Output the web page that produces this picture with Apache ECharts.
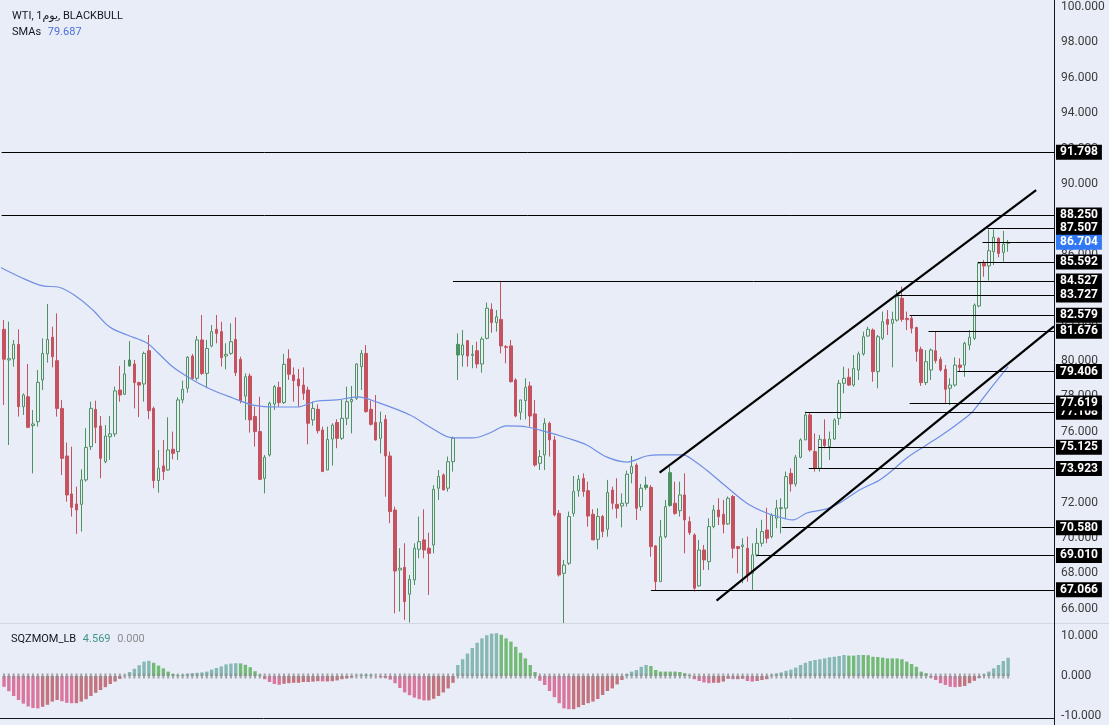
<!DOCTYPE html>
<html><head><meta charset="utf-8">
<script src="https://cdn.jsdelivr.net/npm/echarts@6/dist/echarts.min.js"></script>
<style>html,body{margin:0;padding:0;background:#e9edf7;}#c{width:1109px;height:725px;}</style>
</head><body><div id="c"></div>
<script>
// ---- DATA ----
// candles: [open, close, low, high]
const candles = [
[81.79,80.10,77.51,82.32],[80.06,80.13,75.25,82.22],[80.11,80.94,79.68,81.19],[80.94,77.42,76.86,81.79],[77.42,78.08,76.95,78.17],
[77.98,76.25,76.20,79.83],[76.35,76.44,73.65,77.23],[76.57,78.79,76.29,79.49],[78.93,80.43,78.36,81.28],[80.40,81.22,79.91,83.22],
[81.34,80.24,79.64,81.94],[80.02,77.32,76.86,82.69],[77.32,74.50,73.56,77.80],[74.63,72.43,72.05,75.39],[72.49,71.73,71.21,75.16],
[71.92,71.58,70.23,72.90],[71.90,73.28,70.36,73.88],[73.28,75.12,73.18,76.20],[75.16,77.32,74.97,77.70],[77.27,76.25,75.35,77.76],
[76.33,74.50,73.37,76.89],[74.31,75.76,74.22,76.38],[75.72,75.88,74.41,76.89],[75.88,78.31,75.72,78.55],[78.36,78.08,77.70,79.72],
[78.12,79.27,78.08,80.06],[80.06,79.72,79.68,81.13],[79.83,78.78,77.32,80.06],[78.78,78.64,76.82,78.83],[78.70,80.43,77.70,80.53],
[80.58,77.19,76.71,81.47],[77.32,73.24,72.81,77.42],[73.24,73.94,72.56,74.97],[74.07,73.75,73.28,75.54],[73.84,74.97,73.80,76.82],
[75.01,74.78,74.44,76.01],[74.88,77.80,74.41,77.95],[77.80,78.40,77.61,78.89],[78.46,80.21,78.21,80.28],[80.28,79.02,78.93,80.40],
[79.02,81.19,78.89,81.41],[81.19,79.30,79.21,82.60],[79.30,80.71,78.46,81.19],[80.85,81.66,80.77,82.03],[81.79,81.56,81.00,82.60],
[81.66,80.19,79.68,82.22],[80.28,80.38,79.53,81.00],[80.43,81.09,80.34,82.13],[81.22,79.34,79.15,82.47],[80.09,77.76,77.61,80.24],
[78.02,79.11,76.67,79.30],[79.15,76.67,75.95,79.30],[76.86,76.01,75.16,77.42],[76.01,73.31,73.28,77.98],[73.37,74.56,72.52,74.69],
[74.69,77.61,74.60,77.70],[77.57,78.55,77.23,78.64],[78.50,77.65,77.42,78.83],[77.65,79.81,77.57,80.40],[80.12,79.25,78.93,80.66],
[79.21,78.89,77.70,79.64],[78.98,78.59,77.42,79.55],[78.64,78.17,77.80,79.64],[78.36,76.48,75.29,78.55],[76.67,77.32,76.35,77.70],
[77.27,76.06,75.91,77.55],[76.10,73.75,73.75,76.29],[73.84,75.57,73.84,76.29],[75.59,76.38,74.09,76.48],[76.52,75.63,75.07,76.71],
[75.63,76.76,75.54,77.80],[76.76,77.70,76.38,78.55],[77.70,77.83,75.91,78.59],[77.89,79.83,77.80,79.87],[79.68,80.43,78.36,80.62],
[80.43,77.14,77.08,80.90],[77.27,76.42,76.35,77.76],[76.53,75.54,75.50,78.08],[75.63,76.53,74.78,77.14],[76.70,74.63,72.33,76.95],
[74.63,71.49,70.83,74.88],[71.58,68.13,65.74,71.77],[68.19,68.29,65.84,69.42],[68.34,66.40,65.37,69.70],[66.82,67.66,65.22,67.91],
[67.63,69.42,67.34,69.70],[69.36,69.79,68.85,71.21],[69.89,69.32,68.85,71.62],[69.42,69.13,66.78,70.30],[69.60,72.75,69.13,72.99],
[72.81,73.47,72.15,73.84],[73.56,72.71,72.71,73.65],[72.81,74.31,72.62,74.60],[74.31,75.63,73.75,75.73],[80.94,80.34,78.93,81.56],
[80.34,80.90,79.68,81.75],[81.15,80.28,79.68,81.19],[80.32,80.38,79.59,80.90],[80.58,79.83,79.59,81.09],[79.83,81.24,79.34,81.37],
[81.28,82.98,81.22,83.30],[82.92,82.17,81.60,83.26],[82.17,82.50,81.66,82.88],[82.35,80.85,80.43,84.53],[80.81,80.77,79.87,80.90],
[80.85,78.83,78.78,81.19],[78.93,76.89,76.82,79.02],[77.10,77.80,76.67,77.80],[77.76,78.51,76.70,79.02],[78.59,76.89,76.29,78.83],
[77.01,74.12,74.03,77.80],[74.22,74.60,73.84,74.97],[74.69,76.48,73.84,76.76],[76.48,75.54,74.60,76.57],[75.54,71.30,71.21,75.76],
[71.39,67.91,67.82,71.58],[68.00,68.47,65.18,68.76],[68.57,71.21,68.47,71.49],[71.39,72.62,71.21,73.50],[72.67,73.31,72.33,73.56],
[73.37,72.62,72.33,73.65],[72.67,71.24,70.64,73.18],[71.34,69.89,69.89,71.62],[69.92,71.21,69.36,71.68],[71.21,70.36,70.04,71.30],
[70.49,72.56,70.07,73.28],[72.71,71.96,71.62,72.90],[71.90,71.68,71.11,73.37],[71.81,71.96,70.60,72.52],[71.96,73.60,71.77,73.80],
[73.65,74.03,73.09,74.63],[74.12,71.68,71.02,74.22],[71.77,72.81,71.54,73.05],[72.99,72.84,72.71,73.47],[72.86,69.51,68.94,72.99],
[69.55,67.53,67.06,69.60],[67.53,70.07,67.53,71.02],[70.07,71.77,69.98,72.15],[73.69,71.83,71.77,74.03],[71.96,71.39,71.30,73.18],
[71.54,72.43,71.21,73.18],[72.43,71.02,69.13,73.65],[70.92,70.30,70.17,71.21],[70.17,67.16,66.97,70.26],[67.29,69.32,67.25,69.89],
[69.32,68.76,68.19,69.60],[68.66,70.64,68.19,71.11],[70.64,71.58,70.55,71.86],[71.58,71.20,70.73,72.24],[71.34,70.77,70.26,72.15],
[70.79,72.24,70.73,72.34],[72.34,69.42,68.85,72.43],[69.51,69.40,68.00,69.55],[69.51,69.60,67.44,69.98],[69.42,67.91,67.53,70.08],
[68.00,69.04,67.06,69.70],[69.04,69.70,68.94,70.55],[69.70,70.36,69.51,71.02],[70.45,69.98,69.70,71.71],[70.08,71.26,69.98,71.39],
[71.11,71.68,70.55,72.15],[71.66,71.71,70.26,72.24],[71.68,73.47,71.11,73.75],[73.65,73.05,72.62,73.94],[73.05,74.56,72.90,74.69],
[74.56,75.54,74.50,75.63],[75.54,76.95,75.54,77.14],[76.95,74.97,74.88,77.08],[74.88,73.94,73.75,75.91],[73.94,75.57,73.75,75.82],
[75.57,75.22,75.07,76.70],[75.16,75.59,74.41,76.01],[75.59,76.67,75.54,76.76],[76.76,78.74,76.38,78.93],[78.74,79.02,78.17,79.68],
[79.08,78.64,78.59,79.58],[78.64,79.58,78.55,80.34],[79.49,80.40,78.93,80.53],[80.40,81.37,80.30,81.66],[81.41,81.79,81.37,81.94],
[81.75,79.40,78.83,81.84],[79.40,81.37,78.46,81.47],[81.28,82.22,81.18,82.79],[82.35,82.07,81.47,82.88],[82.13,82.35,79.64,82.79],
[82.31,83.63,82.22,84.01],[83.54,82.35,82.22,84.20],[82.41,82.33,81.75,82.79],[82.41,81.85,81.56,82.54],[81.89,80.53,79.96,81.94],
[80.66,78.78,78.59,80.81],[78.78,79.96,78.64,80.62],[79.49,80.62,78.93,80.71],[80.58,80.02,79.87,81.66],[80.09,79.49,79.40,80.24],
[79.53,78.40,77.61,79.77],[78.46,78.64,77.51,79.02],[78.64,79.77,78.55,80.21],[79.77,79.64,79.40,80.15],[79.77,81.00,79.11,81.09],
[80.90,81.34,80.62,81.75],[81.28,83.16,81.18,83.25],[83.11,85.52,83.03,85.61],[85.52,85.37,84.76,85.71],[85.37,86.23,84.54,87.44],
[86.18,86.99,85.42,87.44],[86.93,86.08,85.86,86.99],[86.14,86.61,85.61,87.35],[86.65,86.70,86.18,86.84]
];
// squeeze momentum histogram (one value per candle)
const momentum = [
-2.7,-3.8,-5.0,-6.0,-6.9,-7.6,-8.0,-8.1,-7.7,-7.2,-6.4,-6.0,-6.3,-6.7,-6.8,-6.8,-6.4,-5.8,-5.0,-4.2,
-3.5,-2.8,-2.0,-1.4,-0.7,0.2,1.0,1.8,2.7,3.6,3.8,3.3,2.6,1.9,1.1,0.5,0.25,0.35,0.55,0.7,
0.8,0.9,1.1,1.6,2.0,2.4,2.9,3.1,3.2,3.15,2.8,2.2,1.2,0.3,-0.8,-1.5,-2.0,-2.2,-1.95,-1.8,
-1.7,-1.7,-1.5,-1.5,-1.4,-1.3,-1.35,-1.35,-1.3,-1.1,-0.8,-0.6,-0.35,0.15,0.35,0.4,0.3,-0.05,-0.3,-0.5,
-0.9,-1.8,-3.0,-4.1,-4.8,-5.4,-5.8,-6.1,-6.1,-5.7,-5.0,-4.1,-3.1,-1.7,2.75,4.2,5.6,7.0,8.3,9.4,
10.2,10.6,10.7,10.3,9.4,8.6,7.3,5.8,4.4,2.75,1.0,-1.2,-2.25,-3.75,-5.3,-6.8,-8.1,-8.3,-8.3,-7.8,
-7.25,-6.8,-6.4,-5.75,-4.75,-3.75,-3.1,-2.1,-1.0,0.5,1.1,1.5,2.3,2.75,2.5,1.5,1.1,1.1,1.1,1.1,
1.0,0.7,0.25,-0.8,-1.25,-1.6,-1.8,-1.7,-1.7,-1.4,-0.7,-0.8,-0.8,-0.7,-1.25,-1.4,-1.25,-1.0,-0.8,0.3,
0.6,0.9,1.3,1.6,2.1,2.75,3.3,3.75,4.0,4.2,4.4,4.7,4.8,5.0,5.25,5.1,5.1,5.25,5.25,5.2,
4.8,4.75,4.6,4.4,4.4,4.4,4.2,3.6,3.0,2.3,1.1,0.7,-0.4,-1.0,-1.8,-2.25,-2.7,-2.8,-2.7,-2.5,
-1.8,-1.2,-0.5,0.4,1.1,1.9,2.75,3.75,4.569
];
// SMA line read at sample positions (candle index units)
const smaIdx = [-0.8,3.3,8.1,11.2,15.1,18.4,21.9,25.5,29.6,31.7,35.0,39.1,42.7,47.4,51.6,56.5,60.7,64.8,68.9,73.3,77.2,84.1,88.2,93.0,97.1,100.6,104.1,108.3,112.4,116.6,120.7,124.8,129.0,133.1,135.8,140.6,142.7,145.5,149.7,153.8,158.0,162.1,163.4,166.3,170.4,173.1,177.2,181.4,184.1,187.0,191.1,195.2,199.4,200.6,204.1,208];
const smaVal = [85.30,84.75,84.24,84.18,83.62,82.88,81.92,81.47,81.02,80.51,79.66,78.93,78.42,77.91,77.51,77.40,77.40,77.74,77.80,77.97,77.68,76.95,76.27,75.65,75.65,75.93,76.33,76.27,75.99,75.65,75.25,74.58,74.29,74.63,74.69,74.69,74.41,73.84,72.88,71.98,71.41,71.07,71.02,71.41,71.64,71.98,72.71,73.28,73.84,74.52,75.25,75.99,76.84,77.12,78.36,79.687];
// channel trend lines (candle index, price)
const upperIdx = [135.8, 213.8], upperVal = [73.69, 89.66];
const lowerIdx = [147.6, 217.5], lowerVal = [66.46, 81.96];
// horizontal levels: price and starting candle index
const levelVals = [91.798, 88.250, 87.507, 85.592, 84.527, 83.727, 82.579, 81.676, 79.406, 77.108, 77.619, 75.125, 73.923, 70.580, 69.010, 67.066];
const levelFrom = [-0.5, -0.5, 203.7, 201.7, 93.0, 184.9, 187.6, 191.5, 197.5, 166.0, 187.6, 168.7, 166.7, 161.1, 155.9, 134.0];
const lastPrice = 86.704, lastPriceFrom = 202.7;
const smaLast = 79.687, momLast = 4.569, sqzLast = 0.000;
const priceTicks = [66,68,70,72,74,76,78,80,82,84,86,88,90,92,94,96,98,100];
const momTicks = [-10,0,10];

// ---- STYLE ----
const BG = '#e9edf7', GREEN = '#4f9262', RED = '#c5525f';
const FONT = 'Roboto, "DejaVu Sans", sans-serif';
const N = 218;
const cats = Array.from({length: N}, (_, i) => String(i));

const candleData = candles.map((c, i) => {
  const prevClose = i > 0 ? candles[i-1][1] : c[0];
  const stroke = c[1] >= prevClose ? GREEN : RED;
  const fill = c[1] > c[0] ? BG : stroke;
  return {value: c, itemStyle: {color: fill, color0: fill, borderColor: stroke, borderColor0: stroke}};
});
const momData = momentum.map((v, i) => {
  const p = i > 0 ? momentum[i-1] : 0;
  let col;
  if (v >= 0) col = v > p ? '#88b8b3' : '#73ba77';
  else col = v < p ? '#da769d' : '#c2737e';
  return {value: v, itemStyle: {color: col}};
});

const levelLines = levelVals.map((v, k) => [
  {coord: [levelFrom[k], v], label: {formatter: v.toFixed(3)}},
  {coord: [N - 0.5, v]}
]);
levelLines.push([
  {coord: [lastPriceFrom, lastPrice], label: {formatter: lastPrice.toFixed(3), backgroundColor: '#3178f4'}},
  {coord: [N - 0.5, lastPrice]}
]);

const legRich = {
  a: {fontSize: 11, fontFamily: FONT, fill: '#131722'},
  b: {fontSize: 11, fontFamily: '"DejaVu Sans", sans-serif', fill: '#131722'},
  s: {fontSize: 11, fontFamily: FONT, fill: '#4a6fd9'},
  t: {fontSize: 11, fontFamily: FONT, fill: '#3f948a'},
  g: {fontSize: 11, fontFamily: FONT, fill: '#8c8c8c'}
};
const chart = echarts.init(document.getElementById('c'), null, {renderer: 'canvas'});
chart.setOption({
  animation: false,
  backgroundColor: BG,
  textStyle: {fontFamily: FONT},
  grid: [
    {left: 1.6, right: 55, top: 0, height: 622},
    {left: 1.6, right: 55, top: 624, height: 94}
  ],
  xAxis: [
    {type: 'category', gridIndex: 0, data: cats, show: false},
    {type: 'category', gridIndex: 1, data: cats, show: false},
    {type: 'value', gridIndex: 0, min: -0.5, max: N - 0.5, show: false}
  ],
  yAxis: [
    {type: 'value', gridIndex: 0, position: 'right', min: 65.25, max: 100.4,
     splitLine: {show: false}, axisLine: {show: false}, axisTick: {show: false},
     axisLabel: {customValues: priceTicks, formatter: v => v.toFixed(3), color: '#3b3b3b', fontSize: 12, fontFamily: FONT, margin: 7}},
    {type: 'value', gridIndex: 1, position: 'right', min: -10.5, max: 13,
     splitLine: {show: false}, axisLine: {show: false}, axisTick: {show: false},
     axisLabel: {customValues: momTicks, formatter: v => v.toFixed(3), color: '#3b3b3b', fontSize: 12, fontFamily: FONT, margin: 7}}
  ],
  series: [
    {type: 'candlestick', xAxisIndex: 0, yAxisIndex: 0, data: candleData, barWidth: 3, z: 3},
    {type: 'line', xAxisIndex: 2, yAxisIndex: 0, data: smaIdx.map((x, k) => [x, smaVal[k]]),
     smooth: 0.35, showSymbol: false, symbol: 'none', lineStyle: {color: '#6f8fe6', width: 1.2}, z: 4},
    {type: 'line', xAxisIndex: 2, yAxisIndex: 0, data: upperIdx.map((x, k) => [x, upperVal[k]]),
     showSymbol: false, symbol: 'none', lineStyle: {color: '#000', width: 2.2}, z: 5},
    {type: 'line', xAxisIndex: 2, yAxisIndex: 0, data: lowerIdx.map((x, k) => [x, lowerVal[k]]),
     showSymbol: false, symbol: 'none', lineStyle: {color: '#000', width: 2.2}, z: 5},
    {type: 'line', xAxisIndex: 2, yAxisIndex: 0, data: [], clip: false, z: 6,
     markLine: {silent: true, symbol: ['none', 'none'], animation: false,
       lineStyle: {color: '#000', width: 1, type: 'solid'},
       label: {show: true, position: 'end', distance: 2, color: '#fff', backgroundColor: '#000',
               fontSize: 12, fontWeight: 'bold', fontFamily: FONT, padding: [2, 4, 1, 4]},
       emphasis: {disabled: true},
       data: levelLines}},
    {type: 'bar', xAxisIndex: 1, yAxisIndex: 1, data: momData, barWidth: 3.4},
    {type: 'scatter', xAxisIndex: 1, yAxisIndex: 1, data: momentum.map(() => sqzLast), symbol: 'rect',
     symbolSize: [2, 5], itemStyle: {color: '#8e8e8e'}, z: 4, silent: true}
  ],
  graphic: [
    {type: 'line', z: 50, shape: {x1: 0, y1: 623.5, x2: 1109, y2: 623.5}, style: {stroke: '#d3d7e0', lineWidth: 1}},
    {type: 'rect', z: 60, shape: {x: 0, y: 719, width: 1109, height: 6}, style: {fill: BG}},
    {type: 'line', z: 61, shape: {x1: 0, y1: 718.5, x2: 1054, y2: 718.5}, style: {stroke: '#131722', lineWidth: 1}},
    {type: 'line', z: 61, shape: {x1: 1054.5, y1: 0, x2: 1054.5, y2: 725}, style: {stroke: '#131722', lineWidth: 1}},
    {type: 'text', z: 70, x: 12, y: 16, style: {text: '{a|WTI, 1}{b|يوم}{a|, BLACKBULL}', rich: legRich, verticalAlign: 'middle'}},
    {type: 'text', z: 70, x: 12, y: 32, style: {text: '{a|SMAs}  {s|' + smaLast.toFixed(3) + '}', rich: legRich, verticalAlign: 'middle'}},
    {type: 'text', z: 70, x: 11, y: 639, style: {text: '{a|SQZMOM_LB}  {t|' + momLast.toFixed(3) + '}  {g|' + sqzLast.toFixed(3) + '}', rich: legRich, verticalAlign: 'middle'}}
  ]
});
</script>
</body></html>
